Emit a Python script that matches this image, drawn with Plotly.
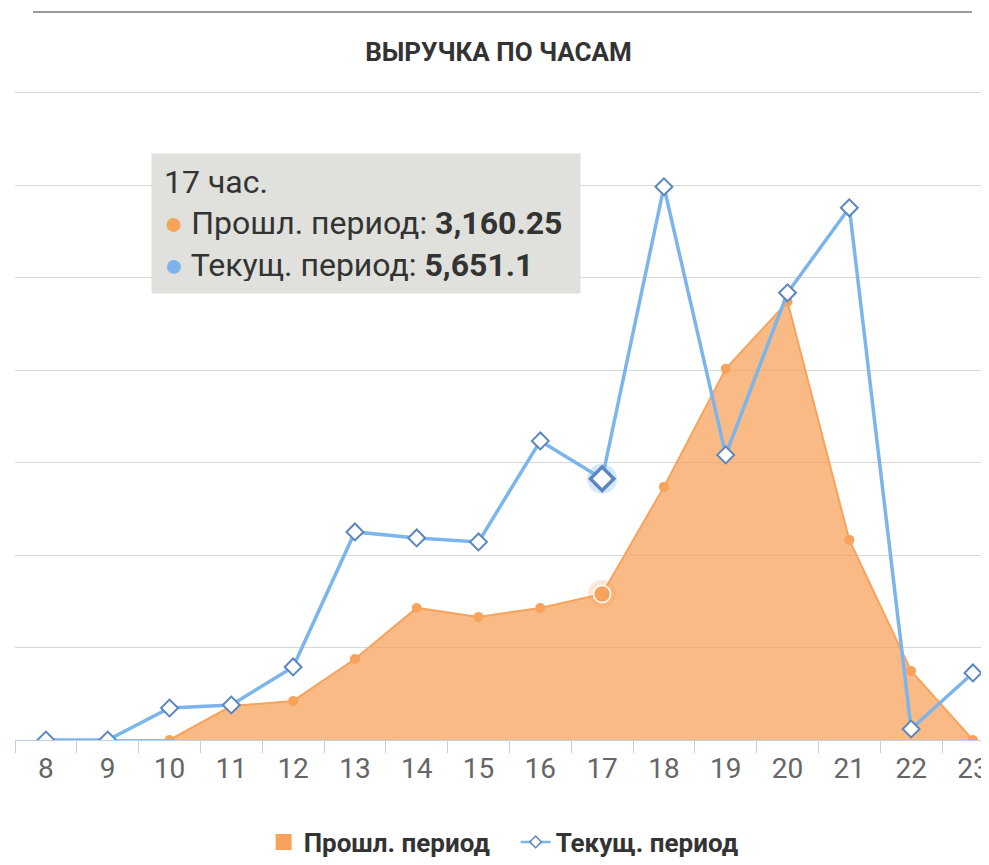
import plotly.graph_objects as go

hours = [str(h) for h in range(8, 24)]
prev = [None, 0, 0, 735, 845, 1753, 2857, 2662, 2857, 3160.25, 5475, 8028, 9478, 4328, 1493, 0]
curr = [0, 0, 692, 757, 1580, 4501, 4371, 4285, 6470, 5651.1, 11967, 6167, 9673, 11512, 238, 1450]
prev_name = "Прошл. период"
curr_name = "Текущ. период"
title = "ВЫРУЧКА ПО ЧАСАМ"
hover_idx = hours.index("17")

ORANGE = "#f7a35c"
BLUE = "#7cb5ec"
BLUE_DARK = "#5b87c0"

W, H = 981, 849
ML, MT, MB = 7, 82, 117
PH = H - MT - MB

fig = go.Figure()
fig.add_trace(go.Scatter(
    x=hours, y=prev, name=prev_name, mode="lines+markers", showlegend=False,
    line=dict(color=ORANGE, width=2), fill="tozeroy",
    fillcolor="rgba(247,163,92,0.75)",
    marker=dict(color=ORANGE, size=10, symbol="circle"),
    cliponaxis=True,
))
fig.add_trace(go.Scatter(
    x=[None], y=[None], name=prev_name, mode="markers",
    marker=dict(color=ORANGE, size=17, symbol="square"),
))
fig.add_trace(go.Scatter(
    x=hours, y=curr, name=curr_name, mode="lines+markers", showlegend=False,
    line=dict(color=BLUE, width=3.5),
    marker=dict(color="white", size=13, symbol="diamond",
                line=dict(color=BLUE_DARK, width=2)),
    cliponaxis=True,
))
fig.add_trace(go.Scatter(
    x=[None], y=[None], name=curr_name, mode="lines+markers",
    line=dict(color=BLUE, width=2.5),
    marker=dict(color="white", size=9, symbol="diamond",
                line=dict(color=BLUE_DARK, width=1.5)),
))
# hover highlight
hx = [hours[hover_idx]]
fig.add_trace(go.Scatter(x=hx, y=[prev[hover_idx]], mode="markers", showlegend=False,
                         marker=dict(color="rgba(247,163,92,0.25)", size=28), cliponaxis=False))
fig.add_trace(go.Scatter(x=hx, y=[prev[hover_idx]], mode="markers", showlegend=False,
                         marker=dict(color=ORANGE, size=17, line=dict(color="white", width=1.5)),
                         cliponaxis=False))
fig.add_trace(go.Scatter(x=hx, y=[curr[hover_idx]], mode="markers", showlegend=False,
                         marker=dict(color="rgba(124,181,236,0.3)", size=30), cliponaxis=False))
fig.add_trace(go.Scatter(x=hx, y=[curr[hover_idx]], mode="markers", showlegend=False,
                         marker=dict(color="white", size=18, symbol="diamond",
                                     line=dict(color=BLUE_DARK, width=3.5)),
                         cliponaxis=False))

fig.add_shape(type="line", xref="x", yref="y", x0=hours[hover_idx], x1=hours[hover_idx],
              y0=0, y1=14000, line=dict(color="#c8c8c8", width=1), layer="below")
fig.add_shape(type="line", xref="paper", yref="paper", x0=0.0185, x1=0.9825,
              y0=(H - MB - 4) / PH, y1=(H - MB - 4) / PH,
              line=dict(color="#9a9a9a", width=2))

def fmt(v):
    return f"{v:,.2f}".rstrip("0").rstrip(".")

tip = (f"{hours[hover_idx]} час.<br>"
       f"<span style='color:{ORANGE}'>●</span> {prev_name}: <b>{fmt(prev[hover_idx])}</b><br>"
       f"<span style='color:{BLUE}'>●</span> {curr_name}: <b>{fmt(curr[hover_idx])}</b>")
fig.add_annotation(xref="paper", yref="paper", x=(143 - ML) / 974, y=(H - MB - 145) / PH,
                   xanchor="left", yanchor="top",
                   text=tip, showarrow=False, align="left", valign="middle", bgcolor="#e0e0dc",
                   width=404, height=115, borderpad=12,
                   font=dict(family="Roboto", size=32, color="#333333"))

fig.update_layout(
    width=W, height=H,
    margin=dict(l=ML, r=0, t=MT, b=MB, autoexpand=False),
    paper_bgcolor="white", plot_bgcolor="white",
    title=dict(text=f"<b>{title}</b>", x=0.5, xanchor="center", y=1 - 44 / H, yanchor="middle",
               font=dict(family="Roboto", size=26, color="#333333")),
    showlegend=True,
    legend=dict(orientation="h", x=0.514, xanchor="center", y=-(834 - (H - MB)) / PH, yanchor="middle",
                font=dict(family="Roboto", size=26, color="#333333", weight="bold"),
                itemwidth=30, tracegroupgap=0, entrywidth=207, entrywidthmode="pixels"),
    hovermode=False,
    xaxis=dict(type="category", range=[-0.5, 15.26], tickson="boundaries", ticks="outside",
               ticklen=12, tickcolor="#c0d0e0", showgrid=False, showline=True,
               linecolor="#c0d0e0", linewidth=1, ticklabelstandoff=3,
               tickfont=dict(family="Roboto", size=28, color="#666666")),
    yaxis=dict(range=[0, 14060], tickvals=list(range(0, 14001, 2000)), showticklabels=False,
               showgrid=True, gridcolor="#d8d8d8", gridwidth=1, zeroline=False, showline=False),
)

fig.write_html("out.html")
